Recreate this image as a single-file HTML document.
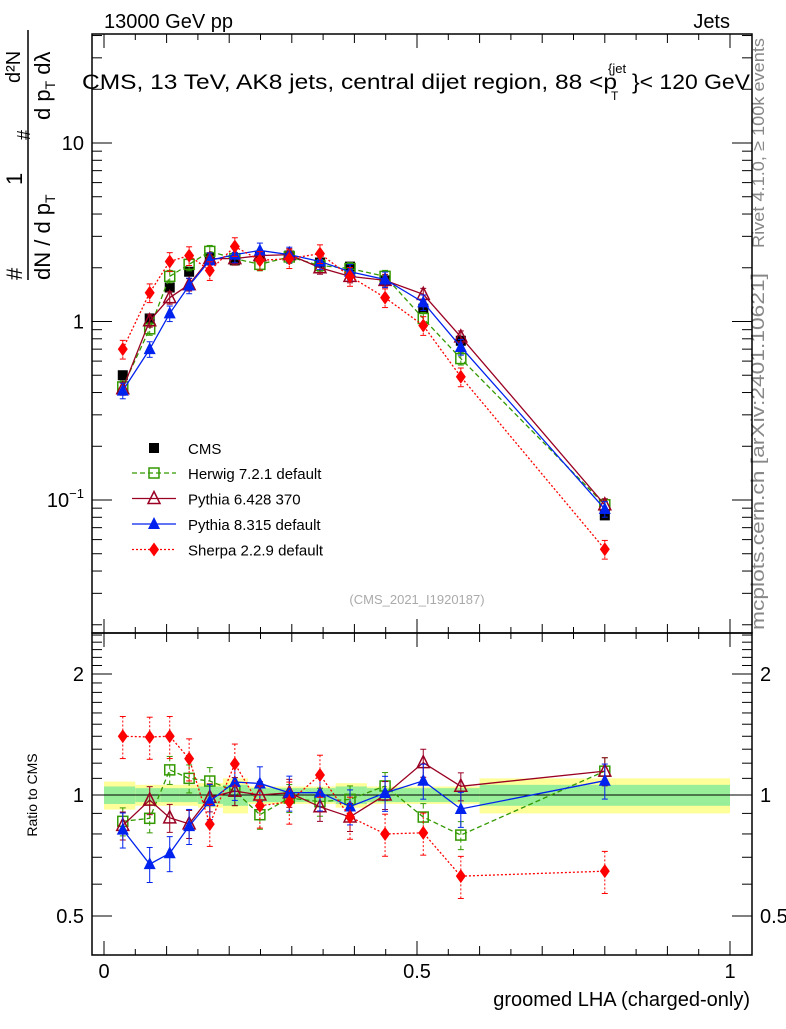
<!DOCTYPE html>
<html><head><meta charset="utf-8"><style>
body{margin:0;background:#fff;font-family:"Liberation Sans",sans-serif}
svg text{font-family:"Liberation Sans",sans-serif}
</style></head><body>
<svg id="c" width="786" height="1024" xmlns="http://www.w3.org/2000/svg">
<text x="104" y="28" font-size="20">13000 GeV pp</text>
<text x="730" y="28" font-size="20" text-anchor="end">Jets</text>
<g>
<text x="82" y="89" font-size="21" textLength="535" lengthAdjust="spacingAndGlyphs">CMS, 13 TeV, AK8 jets, central dijet region, 88 &lt;p</text>
<text x="608" y="73" font-size="13">{jet</text>
<text x="611" y="100" font-size="12">T</text>
<text x="632" y="89" font-size="21" textLength="118" lengthAdjust="spacingAndGlyphs">}&lt; 120 GeV</text>
</g>
<g transform="translate(0,280) rotate(-90)">
<text x="0" y="22" font-size="22">#</text>
<text x="95" y="22" font-size="22">1</text>
<line x1="0" y1="28" x2="250" y2="28" stroke="#000" stroke-width="1.5"/>
<text x="0" y="50" font-size="22">dN / d p<tspan font-size="14" dy="5">T</tspan></text>
<text x="140" y="30" font-size="18">#</text>
<text x="160" y="50" font-size="22">d p<tspan font-size="14" dy="5">T</tspan><tspan dy="-5"> dλ</tspan></text>
<text x="197" y="20" font-size="20">d²N</text>
</g>
<text transform="translate(764,248) rotate(-90)" font-size="17" fill="#888" textLength="210" lengthAdjust="spacingAndGlyphs">Rivet 4.1.0, ≥ 100k events</text>
<text transform="translate(764,630) rotate(-90)" font-size="18" fill="#888" textLength="357" lengthAdjust="spacingAndGlyphs">mcplots.cern.ch [arXiv:2401.10621]</text>
<text x="417" y="604" font-size="13" fill="#aaa" text-anchor="middle">(CMS_2021_I1920187)</text>
<text transform="translate(37,795) rotate(-90)" font-size="14" text-anchor="middle">Ratio to CMS</text>
<text x="750" y="1006" font-size="20" text-anchor="end">groomed LHA (charged-only)</text>
<g id="g"></g>
</svg>
<script>
const xs=[0.03,0.073,0.105,0.136,0.169,0.209,0.249,0.296,0.345,0.393,0.449,0.51,0.57,0.8];
const edges=[0,0.05,0.09,0.12,0.15,0.19,0.23,0.27,0.32,0.37,0.42,0.48,0.54,0.6,1.0];
const cms=[0.50,1.04,1.55,1.9,2.28,2.2,2.34,2.34,2.14,2.03,1.7,1.18,0.78,0.082];
const herwig=[0.43,0.91,1.79,2.09,2.47,2.25,2.09,2.3,2.06,1.98,1.79,1.04,0.62,0.094];
const py6=[0.42,1.01,1.36,1.61,2.25,2.25,2.34,2.37,2.0,1.79,1.7,1.42,0.82,0.094];
const py8=[0.41,0.70,1.11,1.59,2.2,2.37,2.5,2.37,2.17,1.9,1.72,1.28,0.72,0.089];
const sherpa=[0.70,1.45,2.17,2.34,1.93,2.63,2.2,2.25,2.40,1.79,1.36,0.95,0.49,0.053];
const bandY=[0.08,0.06,0.06,0.06,0.07,0.1,0.05,0.05,0.05,0.07,0.05,0.05,0.05,0.1];
const bandG=[0.05,0.04,0.04,0.04,0.05,0.06,0.04,0.04,0.04,0.05,0.04,0.04,0.04,0.06];
const X=v=>104+v*626;
const Ym=v=>143-(Math.log10(v)-1)*178.5;
const Yr=v=>795-121*Math.log2(v);
const g=document.getElementById('g');const NS='http://www.w3.org/2000/svg';
function el(t,a,p){const e=document.createElementNS(NS,t);for(const k in a)e.setAttribute(k,a[k]);(p||g).appendChild(e);return e;}
for(let i=0;i<xs.length;i++){
 const r=el('rect',{x:X(edges[i]),y:Yr(1+bandY[i]),width:X(edges[i+1])-X(edges[i]),height:Yr(1-bandY[i])-Yr(1+bandY[i]),fill:'#ffff99'});
 
 const r2=el('rect',{x:X(edges[i]),y:Yr(1+bandG[i]),width:X(edges[i+1])-X(edges[i]),height:Yr(1-bandG[i])-Yr(1+bandG[i]),fill:'#99ee99'});
 
}
el('line',{x1:92,x2:752,y1:Yr(1),y2:Yr(1),stroke:'#000'});
const f1=el('rect',{x:92,y:34,width:660,height:599,fill:'none',stroke:'#000','stroke-width':1.5});

const f2=el('rect',{x:92,y:633,width:660,height:322,fill:'none',stroke:'#000','stroke-width':1.5});

for(let k=0;k<=20;k++){const v=k*0.05,x=X(v),L=k%10==0?14:(k%2==0?9:6);
 for(const [yt,yb] of [[34,633],[633,955]]){el('line',{x1:x,x2:x,y1:yb,y2:yb-L,stroke:'#000'});el('line',{x1:x,x2:x,y1:yt,y2:yt+L,stroke:'#000'});}}
[[0,'0'],[0.5,'0.5'],[1,'1']].forEach(([v,t])=>{const e=el('text',{x:X(v),y:978,'font-size':20,'text-anchor':'middle'});e.textContent=t;});
for(let d=-2;d<=1;d++)for(let m=1;m<=9;m++){const v=m*Math.pow(10,d);const y=Ym(v);if(y<34||y>633)continue;const L=m==1?20:10;
 el('line',{x1:92,x2:92+L,y1:y,y2:y,stroke:'#000'});el('line',{x1:752,x2:752-L,y1:y,y2:y,stroke:'#000'});}
[[10,'10'],[1,'1']].forEach(([v,t])=>{const e=el('text',{x:84,y:Ym(v)+7,'font-size':20,'text-anchor':'end'});e.textContent=t;});
{const e=el('text',{x:84,y:Ym(0.1)+7,'font-size':20,'text-anchor':'end'});e.innerHTML='10<tspan font-size="13" dy="-9">−1</tspan>';}
for(let k=4;k<=25;k++){const v=k/10;const y=Yr(v);if(y<633||y>955)continue;const L=(v==0.5||v==1||v==2)?20:10;
 el('line',{x1:92,x2:92+L,y1:y,y2:y,stroke:'#000'});el('line',{x1:752,x2:752-L,y1:y,y2:y,stroke:'#000'});}
[[2,'2'],[1,'1'],[0.5,'0.5']].forEach(([v,t])=>{for(const [x,a] of [[84,'end'],[760,'start']]){const e=el('text',{x:x,y:Yr(v)+7,'font-size':20,'text-anchor':a});e.textContent=t;}});
function marker(type,x,y,c,p){
 if(type=='sq')el('rect',{x:x-5,y:y-5,width:10,height:10,fill:c},p);
 if(type=='osq')el('rect',{x:x-5,y:y-5,width:10,height:10,fill:'#fff','fill-opacity':0,stroke:c,'stroke-width':1.5},p);
 if(type=='otri')el('polygon',{points:`${x},${y-7} ${x-6},${y+5} ${x+6},${y+5}`,fill:'none',stroke:c,'stroke-width':1.5},p);
 if(type=='tri')el('polygon',{points:`${x},${y-7} ${x-6},${y+5} ${x+6},${y+5}`,fill:c},p);
 if(type=='dia')el('polygon',{points:`${x},${y-7} ${x-5},${y} ${x},${y+7} ${x+5},${y}`,fill:c},p);
}
const series=[
 {n:'herwig',v:herwig,c:'#339900',m:'osq',d:'5,3',e:0.08,lab:'Herwig 7.2.1 default'},
 {n:'pythia6',v:py6,c:'#990022',m:'otri',d:'',e:0.08,lab:'Pythia 6.428 370'},
 {n:'pythia8',v:py8,c:'#0022ee',m:'tri',d:'',e:0.1,lab:'Pythia 8.315 default'},
 {n:'sherpa',v:sherpa,c:'#ff0000',m:'dia',d:'2,2',e:0.12,lab:'Sherpa 2.2.9 default'}];
{const p=el('g',{});
 xs.forEach((x,i)=>{el('line',{x1:X(x),x2:X(x),y1:Ym(cms[i]*1.05),y2:Ym(cms[i]*0.95),stroke:'#000'},p);marker('sq',X(x),Ym(cms[i]),'#000',p);});}
series.forEach(s=>{
 const p=el('g',{});
 const pr=el('g',{});
 el('polyline',{points:xs.map((x,i)=>X(x)+','+Ym(s.v[i])).join(' '),fill:'none',stroke:s.c,'stroke-width':1.3,'stroke-dasharray':s.d},p);
 el('polyline',{points:xs.map((x,i)=>X(x)+','+Yr(s.v[i]/cms[i])).join(' '),fill:'none',stroke:s.c,'stroke-width':1.3,'stroke-dasharray':s.d},pr);
 xs.forEach((x,i)=>{const v=s.v[i],r=v/cms[i];
  el('line',{x1:X(x),x2:X(x),y1:Ym(v*(1+s.e)),y2:Ym(v*(1-s.e)),stroke:s.c,'stroke-dasharray':s.d},p);
  el('line',{x1:X(x),x2:X(x),y1:Yr(r*(1+s.e)),y2:Yr(r*(1-s.e)),stroke:s.c,'stroke-dasharray':s.d},pr);
  [Ym(v*(1+s.e)),Ym(v*(1-s.e))].forEach(y=>el('line',{x1:X(x)-3,x2:X(x)+3,y1:y,y2:y,stroke:s.c},p));
  [Yr(r*(1+s.e)),Yr(r*(1-s.e))].forEach(y=>el('line',{x1:X(x)-3,x2:X(x)+3,y1:y,y2:y,stroke:s.c},pr));
  marker(s.m,X(x),Ym(v),s.c,p);marker(s.m,X(x),Yr(r),s.c,pr);});
});
const lg=el('g',{});
marker('sq',154,448,'#000',lg);{const t=el('text',{x:188,y:454,'font-size':15},lg);t.textContent='CMS';}
series.forEach((s,i)=>{const y=473+i*25.5;
 el('line',{x1:132,x2:176,y1:y,y2:y,stroke:s.c,'stroke-width':1.3,'stroke-dasharray':s.d},lg);
 marker(s.m,154,y,s.c,lg);const t=el('text',{x:188,y:y+6,'font-size':15},lg);t.textContent=s.lab;});
</script>
</body></html>
